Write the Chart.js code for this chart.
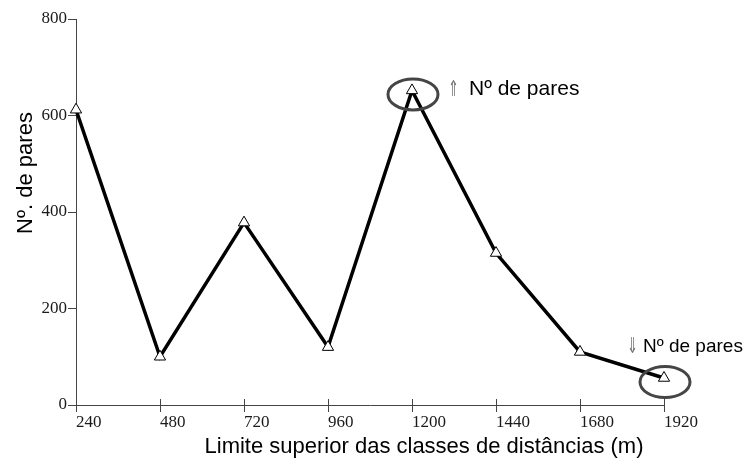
<!DOCTYPE html>
<html>
<head>
<meta charset="utf-8">
<script src="https://cdn.jsdelivr.net/npm/chart.js@4"></script>
<style>
  html, body { margin: 0; background: #fff; }
  #wrap { width: 745px; height: 468px; }
</style>
</head>
<body>
<div id="wrap"><canvas id="c"></canvas></div>
<script>
// Data
const distLimits = ['240', '480', '720', '960', '1200', '1440', '1680', '1920'];
const pairCounts = [612, 100, 378, 120, 652, 315, 110, 56];
const yMin = 0, yMax = 800, yStep = 200;

// circled points and their notes
const notes = [
  { index: 4, arrow: '⇑', text: 'Nº de pares' },
  { index: 7, arrow: '⇓', text: 'Nº de pares' }
];
const xTitle = 'Limite superior das classes de distâncias (m)';
const yTitle = 'Nº. de pares';

const AXIS = '#444';
const TICK_FONT = { family: 'Liberation Serif', size: 17 };

// ── Extra drawing: crossing ticks, circles, notes, axis titles ──
const extras = {
  id: 'extras',
  afterDraw(chart) {
    const ctx = chart.ctx, area = chart.chartArea, xs = chart.scales.x;
    const pts = chart.getDatasetMeta(0).data;
    ctx.save();

    // upper half of the x ticks (they cross the axis)
    ctx.strokeStyle = AXIS; ctx.lineWidth = 1;
    distLimits.forEach((_, i) => {
      const px = Math.round(xs.getPixelForValue(i)) + 0.5;
      ctx.beginPath(); ctx.moveTo(px, area.bottom - 6); ctx.lineTo(px, area.bottom); ctx.stroke();
    });

    // circles + notes
    notes.forEach((n, k) => {
      const p = pts[n.index];
      ctx.strokeStyle = '#454545'; ctx.lineWidth = 3;
      ctx.beginPath(); ctx.ellipse(p.x + 1, p.y + 4, 25, 15.5, 0, 0, Math.PI * 2); ctx.stroke();

      const top = k === 0;
      const ax = top ? p.x + 36 : p.x - 37;
      const tx = top ? p.x + 57 : p.x - 21;
      const by = top ? p.y + 5 : p.y - 26;
      ctx.textBaseline = 'alphabetic'; ctx.textAlign = 'left';
      // thin, tall arrow
      ctx.save();
      ctx.translate(ax, by + 1);
      ctx.scale(0.6, 1);
      ctx.fillStyle = '#777';
      ctx.font = '22px "DejaVu Sans"';
      ctx.fillText(n.arrow, 0, 0);
      ctx.restore();
      ctx.fillStyle = '#000';
      ctx.font = (top ? 21 : 19) + 'px "Liberation Sans"';
      ctx.fillText(n.text, tx, by);
    });

    // axis titles
    ctx.fillStyle = '#000';
    ctx.font = '22px "Liberation Sans"';
    ctx.textAlign = 'center'; ctx.textBaseline = 'middle';
    ctx.fillText(xTitle, 424, 447);
    ctx.translate(26, 173);
    ctx.rotate(-Math.PI / 2);
    ctx.fillText(yTitle, 0, 0);
    ctx.restore();
  }
};

new Chart(document.getElementById('c'), {
  type: 'line',
  data: {
    labels: distLimits,
    datasets: [{
      data: pairCounts,
      borderColor: '#000',
      borderWidth: 3.5,
      tension: 0,
      pointStyle: 'triangle',
      pointRadius: 6.5,
      pointBackgroundColor: '#fff',
      pointBorderColor: '#000',
      pointBorderWidth: 1
    }]
  },
  options: {
    responsive: true,
    maintainAspectRatio: false,
    animation: false,
    layout: { padding: { top: 19, right: 81, left: 0, bottom: 0 } },
    plugins: { legend: { display: false }, tooltip: { enabled: false } },
    scales: {
      x: {
        type: 'category',
        offset: false,
        grid: { drawOnChartArea: false, drawTicks: true, tickLength: 7, color: AXIS },
        border: { color: AXIS, width: 1 },
        ticks: { align: 'start', padding: 0, color: '#1a1a1a', font: TICK_FONT, maxRotation: 0, autoSkip: false },
        afterFit: s => { s.height = 63; }
      },
      y: {
        min: yMin, max: yMax,
        grid: { drawOnChartArea: false, drawTicks: true, tickLength: 8, color: AXIS },
        border: { color: AXIS, width: 1 },
        ticks: { stepSize: yStep, padding: 1, color: '#1a1a1a', font: TICK_FONT },
        afterFit: s => { s.width = 76; }
      }
    }
  },
  plugins: [extras]
});
</script>
</body>
</html>
